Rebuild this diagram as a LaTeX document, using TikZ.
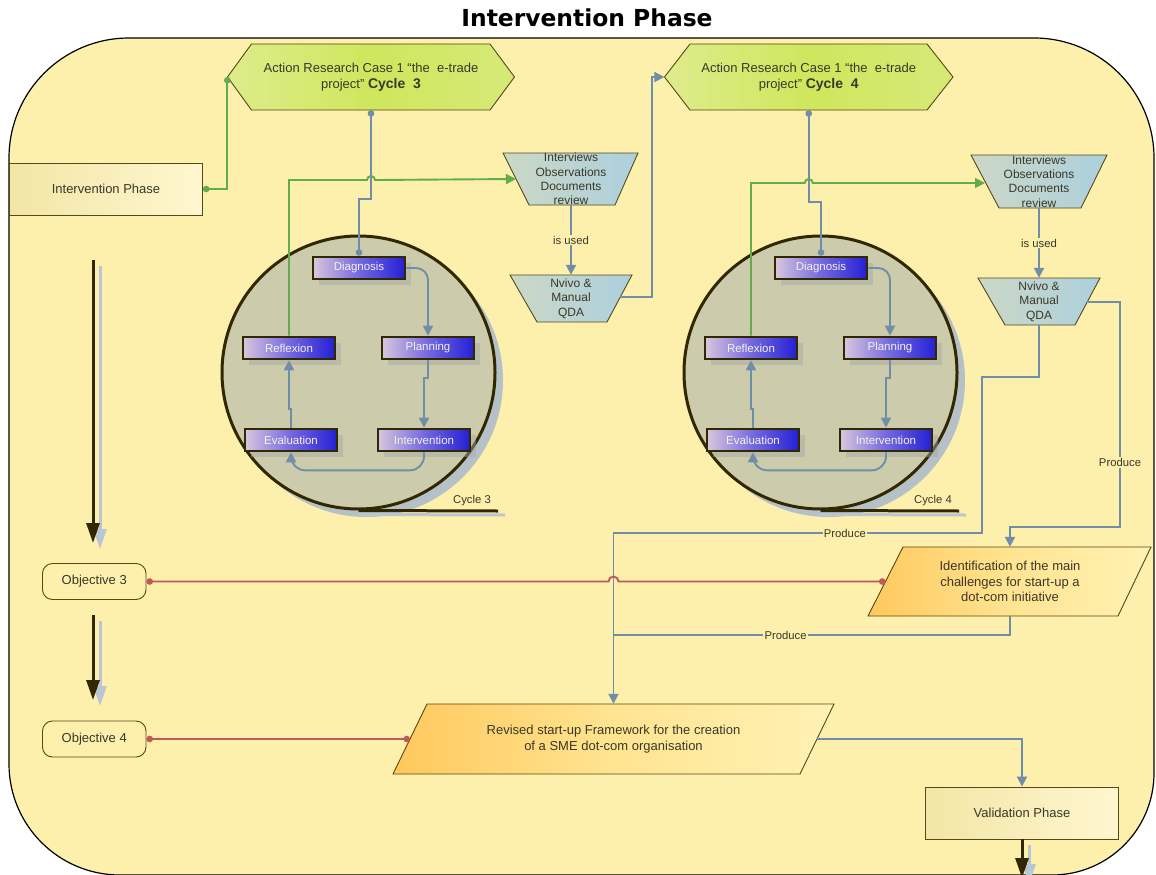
\documentclass[tikz,border=0pt]{standalone}
\usepackage{fontspec}
\setmainfont{Liberation Sans}
\newfontfamily\headfont{DejaVu Sans}
\usetikzlibrary{arrows.meta,shadows}

\definecolor{bgfill}{RGB}{253,239,172}
\definecolor{ink}{RGB}{58,56,40}
\definecolor{edge}{RGB}{86,72,24}
\definecolor{dark}{RGB}{50,40,0}
\definecolor{steel}{RGB}{112,142,168}
\definecolor{leaf}{RGB}{98,172,78}
\definecolor{brick}{RGB}{194,88,88}
\definecolor{hexlight}{RGB}{222,236,140}
\definecolor{hexdeep}{RGB}{206,231,92}
\definecolor{hexright}{RGB}{214,233,120}
\definecolor{tealL}{RGB}{204,216,198}
\definecolor{tealR}{RGB}{172,208,222}
\definecolor{orangeA}{RGB}{255,200,92}
\definecolor{orangeB}{RGB}{255,228,145}
\definecolor{orangeC}{RGB}{255,242,180}
\definecolor{discfill}{RGB}{204,203,172}
\definecolor{discshadow}{RGB}{170,186,204}
\definecolor{boxL}{RGB}{216,198,222}
\definecolor{boxM}{RGB}{116,104,224}
\definecolor{boxR}{RGB}{36,32,212}
\definecolor{boxtext}{RGB}{244,242,228}
\definecolor{phaseA}{RGB}{242,230,165}
\definecolor{phaseB}{RGB}{255,246,208}
\definecolor{ghost}{RGB}{186,198,212}

\tikzset{
  every node/.style={text=ink, align=center, inner sep=0pt},
  outline/.style={draw=edge, line width=0.9pt},
  phasebox/.style={outline, rectangle, left color=phaseA, right color=phaseB,
    minimum width=193pt, minimum height=52pt, font=\fontsize{13}{15}\selectfont},
  goalbox/.style={outline, rectangle, rounded corners=10pt, minimum width=103.5pt,
    minimum height=36pt, font=\fontsize{13}{15}\selectfont},
  hexfill/.style={outline, left color=hexlight, right color=hexright, middle color=hexdeep},
  tealfill/.style={outline, left color=tealL, right color=tealR},
  orangefill/.style={outline, left color=orangeA, right color=orangeC, middle color=orangeB},
  hextext/.style={rectangle, minimum height=66pt, font=\fontsize{13}{16.5}\selectfont},
  trapztext/.style={rectangle, font=\fontsize{12}{14.3}\selectfont},
  slanttext/.style={rectangle, font=\fontsize{13}{15.7}\selectfont},
  stepbox/.style={rectangle, minimum width=92pt, minimum height=22pt, draw=dark,
    line width=2.6pt, left color=boxL, right color=boxR, middle color=boxM,
    text=boxtext, font=\fontsize{11.5}{13}\selectfont,
    drop shadow={shadow xshift=6pt, shadow yshift=-6pt, fill=black!35, opacity=0.45}},
  disc/.style={circle, minimum size=273pt, draw=dark, line width=3pt, fill=discfill,
    drop shadow={shadow xshift=8pt, shadow yshift=-8pt, fill=discshadow, opacity=0.85}},
  tailline/.style={draw=dark, line width=3pt},
  ghostline/.style={draw=ghost, line width=3pt},
  lbl/.style={fill=bgfill, inner sep=1.2pt, font=\fontsize{11.3}{13}\selectfont},
  cyclbl/.style={font=\fontsize{11.3}{13}\selectfont},
  flow/.style={draw=steel, line width=1.9pt},
  leafline/.style={draw=leaf, line width=1.9pt},
  brickline/.style={draw=brick, line width=1.9pt},
  arrowend/.style={-{Triangle[length=10pt,width=10pt]}},
  dotends/.style={{Circle[length=6.5pt]}-{Circle[length=6.5pt]}},
  heavy/.style={draw=dark, line width=3pt, -{Triangle[length=20pt,width=13pt]}},
  heavyghost/.style={draw=ghost, line width=3pt, -{Triangle[length=20pt,width=13pt]}},
}

\begin{document}
\begin{tikzpicture}[x=1pt, y=-1pt]
\useasboundingbox (0,0) rectangle (1156,875);

% page frame with large rounded corners
\path[fill=bgfill, draw=black, line width=1.2pt]
  (129,38) -- (1034,38) arc[start angle=270, end angle=360, radius=120]
  -- (1154,773) arc[start angle=0, end angle=90, radius=102]
  -- (120,875) arc[start angle=90, end angle=180, radius=111]
  -- (9,158) arc[start angle=180, end angle=270, radius=120] -- cycle;

\node[anchor=base, text=black, font=\headfont\bfseries\fontsize{23.4}{28}\selectfont]
  (title) at (587,27) {Intervention Phase};

% phase boxes and objectives
\node[phasebox] (iph) at (106,189) {Intervention Phase};
\node[phasebox] (val) at (1022,813) {Validation Phase};
\node[goalbox] (ob3) at (94.25,581.5) {Objective 3};
\node[goalbox] (ob4) at (94.25,739) {Objective 4};

% hexagons for the two action research cycles
\path[hexfill] (227.5,77) -- (251.5,44) -- (490,44) -- (514.5,77) -- (490,110) -- (251.5,110) -- cycle;
\node[hextext, minimum width=287pt] (hexA) at (371,77)
  {Action Research Case 1 “the\ \ e-trade\\project” {\bfseries\fontsize{14}{16.5}\selectfont Cycle\ \ 3}};
\path[hexfill] (664.5,77) -- (690,44) -- (927,44) -- (953,77) -- (927,110) -- (690,110) -- cycle;
\node[hextext, minimum width=288.5pt] (hexB) at (808.75,77)
  {Action Research Case 1 “the\ \ e-trade\\project” {\bfseries\fontsize{14}{16.5}\selectfont Cycle\ \ 4}};

% data collection and analysis trapezoids
\path[tealfill] (503,153) -- (638,153) -- (615,205) -- (529,205) -- cycle;
\node[trapztext, minimum height=52pt] (intA) at (571,179) {Interviews\\Observations\\Documents\\review};
\path[tealfill] (510,275) -- (632,275) -- (607,322) -- (537,322) -- cycle;
\node[trapztext, minimum height=47pt] (nvA) at (571,298.5) {Nvivo \&\\Manual\\QDA};
\path[tealfill] (971,155) -- (1107,155) -- (1081,208) -- (999,208) -- cycle;
\node[trapztext, minimum height=53pt] (intB) at (1039,181.5) {Interviews\\Observations\\Documents\\review};
\path[tealfill] (978,278) -- (1100,278) -- (1075,325) -- (1005,325) -- cycle;
\node[trapztext, minimum height=47pt] (nvB) at (1039,301.5) {Nvivo \&\\Manual\\QDA};

% outputs
\path[orangefill] (903,547) -- (1151,547) -- (1118,616) -- (868,616) -- cycle;
\node[slanttext, minimum height=69pt] (idn) at (1010,581.5)
  {Identification of the main\\challenges for start-up a\\dot-com initiative};
\path[orangefill] (427,704) -- (834,704) -- (800,774) -- (393,774) -- cycle;
\node[slanttext, minimum height=70pt, font=\fontsize{13}{16}\selectfont] (rev) at (613.5,739)
  {Revised start-up Framework for the creation\\of a SME dot-com organisation};

% attachment points on slanted sides
\coordinate (intAin) at (516,179);
\coordinate (intBin) at (985,183);
\coordinate (nvAout) at (620,297);
\coordinate (nvBout) at (1087,302);
\coordinate (idnL) at (885.5,581.5);
\coordinate (revL) at (410,739);
\coordinate (revR) at (817,739);

% cycle discs
\node[disc] (c3) at (358.5,372.5) {};
\node[disc] (c4) at (820.5,372.5) {};
\coordinate (tail3) at (498,511);
\coordinate (tail4) at (959,511);
\draw[ghostline] ([yshift=-4pt]c3.south) -- ([xshift=7pt,yshift=-4pt]tail3);
\draw[tailline] (c3.south) -- (tail3);
\draw[ghostline] ([yshift=-4pt]c4.south) -- ([xshift=7pt,yshift=-4pt]tail4);
\draw[tailline] (c4.south) -- (tail4);
\node[cyclbl] (cl3) at (472,501) {Cycle 3};
\node[cyclbl] (cl4) at (933,501) {Cycle 4};

% cycle steps
\node[stepbox] (d3) at (359,268) {Diagnosis};
\node[stepbox] (r3) at (289,348) {Reflexion};
\node[stepbox] (p3) at (428,348) {Planning};
\node[stepbox] (e3) at (291,440) {Evaluation};
\node[stepbox] (i3) at (424,440) {Intervention};
\node[stepbox] (d4) at (821,268) {Diagnosis};
\node[stepbox] (r4) at (751,348) {Reflexion};
\node[stepbox] (p4) at (890,348) {Planning};
\node[stepbox] (e4) at (753,440) {Evaluation};
\node[stepbox] (i4) at (886,440) {Intervention};

% flows inside the cycles
\foreach \c in {3,4}{
  \draw[flow, arrowend, rounded corners=12pt] (d\c.east) -| (p\c.north);
  \draw[flow, arrowend] (p\c.south) -- ++(0,18) -| (i\c.north);
  \draw[flow, arrowend, rounded corners=14pt] (i\c.south) -- ++(0,18) -| (e\c.south);
  \draw[flow, arrowend] (e\c.north) -- ++(0,-19) -| (r\c.south);
}

% hexagons feed the diagnosis step
\draw[flow, dotends] (hexA.south) -- ++(0,89) -| (d3.north);
\draw[flow, dotends] (hexB.south) -- ++(0,92) -| (d4.north);

% reflexion feeds the data collection, hopping over the vertical lines
\coordinate (hopA) at (367,180);
\coordinate (hopB) at (804.75,183);
\draw[leafline, arrowend] (r3.north) |- (hopA) arc[start angle=180, end angle=360, radius=4] -- (intAin);
\draw[leafline, arrowend] (r4.north) |- (hopB) arc[start angle=180, end angle=360, radius=4] -- (intBin);

% phase start
\draw[leafline, dotends] (iph.east) -| (hexA.west);

% data collection to analysis
\draw[flow, arrowend] (intA.south) -- node[lbl]{is used} (nvA.north);
\draw[flow, arrowend] (intB.south) -- node[lbl]{is used} (nvB.north);

% analysis of cycle 3 starts cycle 4
\draw[flow, arrowend] (nvAout) -| ([xshift=-12.5pt]hexB.west) -- (hexB.west);

% analysis of cycle 4 produces the outputs
\coordinate (lp1) at (982,377);
\coordinate (lp2) at (613.5,533);
\coordinate (lp3) at (613.5,635);
\coordinate (rt) at (1120,527);
\draw[flow, arrowend] (nvB.south) |- (lp1) |- node[lbl, pos=0.686]{Produce} (lp2) -- (rev.north);
\draw[flow] (idn.south) |- node[lbl, pos=0.783]{Produce} (lp3);
\draw[flow, arrowend] (nvBout) -| node[lbl, pos=0.856]{Produce} (rt) -| (idn.north);
\draw[flow, arrowend] (revR) -| (val.north);

% objectives linked to their outputs
\coordinate (hopR) at (608.5,581.5);
\draw[brickline, dotends] (ob3.east) -- (hopR) arc[start angle=180, end angle=360, radius=5] -- (idnL);
\draw[brickline, dotends] (ob4.east) -- (revL);

% progression arrows
\coordinate (a1s) at (93,260);
\coordinate (a1e) at (93,543);
\coordinate (a2s) at (93,615);
\coordinate (a2e) at (93,700);
\coordinate (a3e) at (1022,878);
\draw[heavyghost] ([xshift=7pt,yshift=-6pt]a1s) -- ([xshift=7pt,yshift=-6pt]a1e);
\draw[heavy] (a1s) -- (a1e);
\draw[heavyghost] ([xshift=7pt,yshift=-6pt]a2s) -- ([xshift=7pt,yshift=-6pt]a2e);
\draw[heavy] (a2s) -- (a2e);
\draw[heavyghost] ([xshift=7pt,yshift=-6pt]val.south) -- ([xshift=7pt,yshift=-6pt]a3e);
\draw[heavy] (val.south) -- (a3e);
\end{tikzpicture}
\end{document}
